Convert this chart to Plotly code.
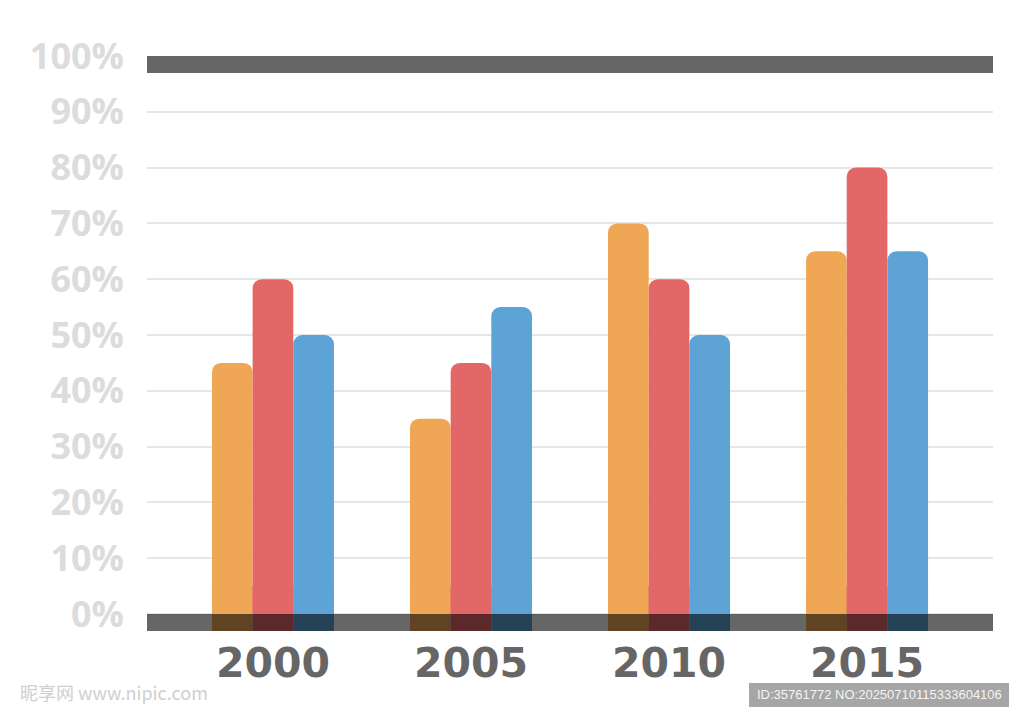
import plotly.graph_objects as go

years = ["2000", "2005", "2010", "2015"]
series_orange = [45, 35, 70, 65]
series_red = [60, 45, 60, 80]
series_blue = [50, 55, 50, 65]
y_ticks = [0, 10, 20, 30, 40, 50, 60, 70, 80, 90, 100]
y_tick_labels = [f"{v}%" for v in y_ticks]

BAND = 3.05  # thickness of the dark bands, in axis units
colors = ["#EFA755", "#E46767", "#5EA3D6"]

fig = go.Figure()
for i, (vals, col) in enumerate(zip([series_orange, series_red, series_blue], colors)):
    # square-cornered foot of each bar (runs under the bottom band)
    fig.add_trace(go.Bar(
        x=years, y=[BAND + min(v, 5) for v in vals], base=-BAND,
        offsetgroup=str(i),
        marker=dict(color=col, line=dict(width=0)),
        hoverinfo="skip",
    ))
    # the bar itself with rounded top
    fig.add_trace(go.Bar(
        x=years, y=vals,
        offsetgroup=str(i),
        marker=dict(color=col, line=dict(width=0), cornerradius=9),
        hovertemplate="%{x}: %{y}%<extra></extra>",
    ))

# dark translucent bands at 0% and 100%
fig.add_shape(type="rect", xref="paper", yref="y", x0=0, x1=1, y0=-BAND, y1=0,
              fillcolor="rgba(0,0,0,0.6)", line=dict(width=0), layer="above")
fig.add_shape(type="rect", xref="paper", yref="y", x0=0, x1=1, y0=100 - BAND, y1=100,
              fillcolor="rgba(0,0,0,0.6)", line=dict(width=0), layer="above")

# plot-area geometry in screen pixels (for placing watermarks)
PL, PR, PT, PB = 147, 993, 55.5, 631
PW, PH = PR - PL, PB - PT

def px(x):
    return (x - PL) / PW

def py(y):
    return (PB - y) / PH

fig.add_shape(type="rect", xref="paper", yref="paper",
              x0=px(749), x1=px(1009), y0=py(707), y1=py(683),
              fillcolor="rgba(150,150,150,0.85)", line=dict(width=0), layer="above")
fig.add_annotation(xref="paper", yref="paper", x=px(879), y=py(695),
                   xanchor="center", yanchor="middle",
                   text="ID:35761772 NO:20250710115333604106",
                   font=dict(family="Liberation Sans, Arial", size=13, color="#f4f4f4"),
                   showarrow=False)
fig.add_annotation(xref="paper", yref="paper", x=px(18), y=py(692),
                   xanchor="left", yanchor="middle",
                   text="昵享网 www.nipic.com",
                   font=dict(family="Noto Sans CJK SC", size=18, color="#cfcfcf"),
                   showarrow=False)

OFF = 8  # page body margin offset
fig.update_layout(
    width=1024, height=723,
    margin=dict(l=PL - OFF, r=1024 + OFF - PR, t=PT - OFF, b=723 + OFF - PB),
    paper_bgcolor="white", plot_bgcolor="white",
    barmode="group", bargap=0.384, bargroupgap=0,
    showlegend=False,
    xaxis=dict(
        type="category",
        range=[-0.636, 3.636],
        showgrid=False, showline=False, zeroline=False,
        ticks="",
        tickfont=dict(family="DejaVu Sans", size=41, color="#666666", weight="bold"),
        ticklabelstandoff=4,
    ),
    yaxis=dict(
        range=[-BAND, 100],
        tickvals=y_ticks, ticktext=y_tick_labels,
        showgrid=True, gridcolor="#e6e6e6", gridwidth=2,
        zeroline=False, showline=False, ticks="",
        tickfont=dict(family="Open Sans", size=36, color="#dcdcdc", weight="bold"),
        ticklabelstandoff=22,
    ),
)

fig.write_html("out.html")
